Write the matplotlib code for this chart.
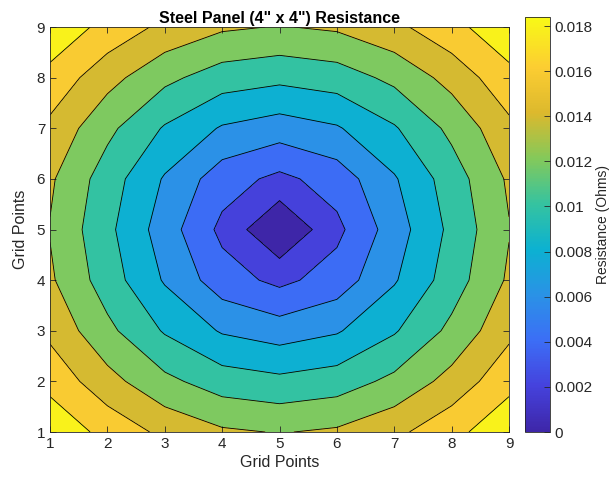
import matplotlib

matplotlib.use("Agg")

import matplotlib.pyplot as plt
import numpy as np
from matplotlib.cm import ScalarMappable
from matplotlib.colors import LinearSegmentedColormap, Normalize

grid_x = [1, 2, 3, 4, 5, 6, 7, 8, 9]
grid_y = [1, 2, 3, 4, 5, 6, 7, 8, 9]

# measured resistance, one row per grid y (y = 1 first)
resistance = [
    [0.0194, 0.0174, 0.0155, 0.0143, 0.0139, 0.0143, 0.0155, 0.0174, 0.0194],
    [0.0174, 0.0147, 0.0125, 0.0110, 0.0105, 0.0110, 0.0125, 0.0147, 0.0174],
    [0.0155, 0.0125, 0.0098, 0.0078, 0.0070, 0.0078, 0.0098, 0.0125, 0.0155],
    [0.0143, 0.0110, 0.0078, 0.0049, 0.0035, 0.0049, 0.0078, 0.0110, 0.0143],
    [0.0139, 0.0105, 0.0070, 0.0035, 0.0000, 0.0035, 0.0070, 0.0105, 0.0139],
    [0.0143, 0.0110, 0.0078, 0.0049, 0.0035, 0.0049, 0.0078, 0.0110, 0.0143],
    [0.0155, 0.0125, 0.0098, 0.0078, 0.0070, 0.0078, 0.0098, 0.0125, 0.0155],
    [0.0174, 0.0147, 0.0125, 0.0110, 0.0105, 0.0110, 0.0125, 0.0147, 0.0174],
    [0.0194, 0.0174, 0.0155, 0.0143, 0.0139, 0.0143, 0.0155, 0.0174, 0.0194],
]

levels = [0.0, 0.002, 0.004, 0.006, 0.008, 0.010, 0.012, 0.014, 0.016, 0.018]
color_min = 0.0
color_max = 0.0184

# parula-like colour map
PARULA = LinearSegmentedColormap.from_list(
    "parula",
    [
        (0.00, "#3e26a8"),
        (0.11, "#4542dd"),
        (0.22, "#3c6ef6"),
        (0.33, "#2a92e6"),
        (0.44, "#0cb1d1"),
        (0.55, "#35c3a0"),
        (0.66, "#84c95a"),
        (0.77, "#dcb92d"),
        (0.88, "#fccd32"),
        (1.00, "#f8f916"),
    ],
)

TEXT = "#262626"


def main() -> None:
    plt.rcParams["font.family"] = ["Liberation Sans", "DejaVu Sans"]

    z = np.array(resistance)
    norm = Normalize(vmin=color_min, vmax=color_max)
    fill_colors = [PARULA(norm(v)) for v in levels]
    fill_levels = levels + [max(z.max(), levels[-1]) + 1e-9]

    fig = plt.figure(figsize=(6.13, 4.82), dpi=100)
    ax = fig.add_axes([0.0816, 0.1037, 0.7488, 0.8402])

    ax.contourf(grid_x, grid_y, z, levels=fill_levels, colors=fill_colors)
    ax.contour(grid_x, grid_y, z, levels=levels[1:], colors="k", linewidths=0.6)

    ax.set_xlim(1, 9)
    ax.set_ylim(1, 9)
    ax.set_xticks(grid_x)
    ax.set_yticks(grid_y)
    ax.tick_params(direction="in", top=True, right=True, length=4,
                   labelsize=11, colors=TEXT, width=0.6)
    for spine in ax.spines.values():
        spine.set_color(TEXT)
        spine.set_linewidth(0.6)

    ax.set_xlabel("Grid Points", fontsize=11.5, color=TEXT, labelpad=3)
    ax.set_ylabel("Grid Points", fontsize=11.5, color=TEXT, labelpad=6)
    ax.set_title('Steel Panel (4" x 4") Resistance', fontsize=11.5,
                 fontweight="bold", pad=3)

    cax = fig.add_axes([0.8564, 0.1037, 0.0408, 0.8610])
    cbar = fig.colorbar(ScalarMappable(norm=norm, cmap=PARULA), cax=cax)
    cbar.set_ticks(levels)
    cbar.set_ticklabels([f"{v:g}" for v in levels])
    cbar.outline.set_edgecolor(TEXT)
    cbar.outline.set_linewidth(0.6)
    cax.tick_params(direction="in", length=4, labelsize=11, colors=TEXT, width=0.6)
    cbar.set_label("Resistance (Ohms)", fontsize=10, color=TEXT, labelpad=2)

    fig.savefig("out.png", dpi=100)


if __name__ == "__main__":
    main()
